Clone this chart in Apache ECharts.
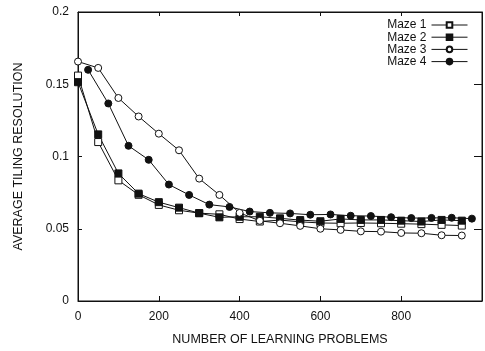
<!DOCTYPE html>
<html>
<head>
<meta charset="utf-8">
<script src="https://cdn.jsdelivr.net/npm/echarts@6/dist/echarts.min.js"></script>
<style>
  html, body { margin: 0; padding: 0; background: #fff; }
  #chart { width: 485px; height: 351px; }
</style>
</head>
<body>
<div id="chart"></div>
<script>
// Learning problems at which each maze was evaluated
const problemsA = [0, 50, 100, 150, 200, 250, 300, 350, 400, 450, 500, 550, 600, 650, 700, 750, 800, 850, 900, 950];
const problemsB = [25, 75, 125, 175, 225, 275, 325, 375, 425, 475, 525, 575, 625, 675, 725, 775, 825, 875, 925, 975];

// Average tiling resolution per maze
const maze1 = [0.156, 0.110, 0.0835, 0.0735, 0.0665, 0.0628, 0.0608, 0.0600, 0.0567, 0.0550,
               0.0560, 0.0548, 0.0540, 0.0538, 0.0540, 0.0538, 0.0535, 0.0532, 0.0527, 0.0522];
const maze2 = [0.1514, 0.1153, 0.0883, 0.0743, 0.0684, 0.0646, 0.0608, 0.0579, 0.0583, 0.0583,
               0.0572, 0.0560, 0.0552, 0.0568, 0.0561, 0.0561, 0.0556, 0.0550, 0.0561, 0.0556];
const maze3 = [0.1657, 0.1613, 0.1405, 0.1277, 0.1158, 0.1043, 0.0847, 0.0734, 0.0610, 0.0555,
               0.0538, 0.0520, 0.0500, 0.0492, 0.0482, 0.0480, 0.0471, 0.0469, 0.0455, 0.0453];
const maze4 = [0.160, 0.1367, 0.1074, 0.0977, 0.0806, 0.0734, 0.0667, 0.0651, 0.0619, 0.0610,
               0.0606, 0.0597, 0.0599, 0.0590, 0.0588, 0.0580, 0.0574, 0.0575, 0.0576, 0.0570];

const seriesNames = ['Maze 1', 'Maze 2', 'Maze 3', 'Maze 4'];

const FONT = 'Liberation Sans, Arial, Helvetica, sans-serif';
const INK = '#111';
const X_MAX = 1000;
const Y_MAX = 0.2;

function pairs(xs, ys) { return xs.map((x, i) => [x, ys[i]]); }

// The frame axes share the main axes' extents, so either pair maps values identically.
function lineSeries(name, xs, ys, symbol, filled, axisIdx) {
  return {
    name: name,
    type: 'line',
    xAxisIndex: axisIdx,
    yAxisIndex: axisIdx,
    data: pairs(xs, ys),
    symbol: symbol,
    symbolSize: 7,
    showAllSymbol: true,
    lineStyle: { color: INK, width: 1 },
    itemStyle: { color: filled ? INK : '#fff', borderColor: INK, borderWidth: 1 },
    emphasis: { disabled: true },
    animation: false
  };
}

const chart = echarts.init(document.getElementById('chart'), null, { renderer: 'canvas' });

// Frame axes (top and right) carrying only inward ticks
function frameAxis(position, max, interval, tickLen) {
  return {
    type: 'value',
    position: position,
    min: 0,
    max: max,
    interval: interval,
    axisLine: { show: true, onZero: false, lineStyle: { color: INK, width: 1 } },
    axisTick: { show: true, inside: true, length: tickLen, lineStyle: { color: INK } },
    axisLabel: { show: false },
    splitLine: { show: false }
  };
}

chart.setOption({
  backgroundColor: '#fff',
  textStyle: { fontFamily: FONT, color: INK },
  grid: {
    left: 78, top: 12, width: 414, height: 296, containLabel: false,
    show: true, borderColor: INK, borderWidth: 1, backgroundColor: 'transparent'
  },
  legend: {
    data: seriesNames,
    orient: 'vertical',
    right: 12,
    top: 14,
    align: 'right',
    itemWidth: 36,
    itemHeight: 7,
    itemGap: 0.2,
    selectedMode: false,
    lineStyle: { width: 1 },
    textStyle: { fontFamily: FONT, fontSize: 12, lineHeight: 12, height: 12, color: INK }
  },
  xAxis: [
    {
      type: 'value',
      min: 0,
      max: X_MAX,
      interval: 200,
      name: 'NUMBER OF LEARNING PROBLEMS',
      nameLocation: 'middle',
      nameGap: 32,
      nameTextStyle: { fontFamily: FONT, fontSize: 12.5, color: INK },
      axisLine: { show: true, onZero: false, lineStyle: { color: INK, width: 1 } },
      axisTick: { show: true, inside: true, length: 5, lineStyle: { color: INK } },
      axisLabel: {
        fontFamily: FONT, fontSize: 12, color: INK, margin: 10,
        formatter: v => (v >= X_MAX ? '' : String(v))
      },
      splitLine: { show: false }
    },
    frameAxis('top', X_MAX, 200, 4)
  ],
  yAxis: [
    {
      type: 'value',
      min: 0,
      max: Y_MAX,
      interval: 0.05,
      name: 'AVERAGE TILING RESOLUTION',
      nameLocation: 'middle',
      nameGap: 53,
      nameTextStyle: { fontFamily: FONT, fontSize: 12.5, color: INK },
      axisLine: { show: true, onZero: false, lineStyle: { color: INK, width: 1 } },
      axisTick: { show: true, inside: true, length: 4, lineStyle: { color: INK } },
      axisLabel: { fontFamily: FONT, fontSize: 12, color: INK, margin: 9 },
      splitLine: { show: false }
    },
    frameAxis('right', Y_MAX, 0.05, 8)
  ],
  series: [
    lineSeries('Maze 1', problemsA, maze1, 'rect', false, 0),
    lineSeries('Maze 2', problemsA, maze2, 'rect', true, 0),
    lineSeries('Maze 3', problemsA, maze3, 'circle', false, 0),
    lineSeries('Maze 4', problemsB, maze4, 'circle', true, 1)
  ]
});
</script>
</body>
</html>
